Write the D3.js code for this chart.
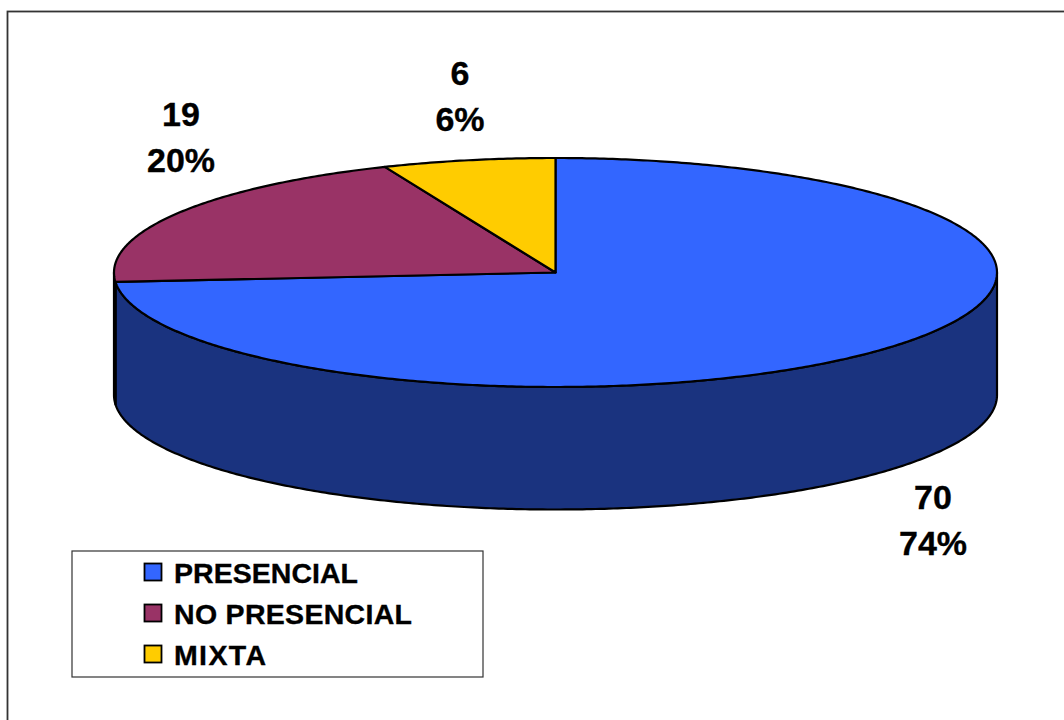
<!DOCTYPE html>
<html>
<head>
<meta charset="utf-8">
<script src="https://d3js.org/d3.v7.min.js"></script>
<style>
html,body{margin:0;padding:0;background:#fff;overflow:hidden}
svg{display:block}
text{font-family:"Liberation Sans",Arial,sans-serif;font-weight:bold;fill:#000;stroke:#000;stroke-width:.35}
</style>
</head>
<body>
<svg id="chart" width="1064" height="720"></svg>
<script>
const categories = ["PRESENCIAL", "NO PRESENCIAL", "MIXTA"];
const values = [70, 19, 6];
const percentLabels = ["74%", "20%", "6%"];
const topColors = ["#3366FF", "#993366", "#FFCC00"];
const sideColors = ["#1A337F", "#4D1A33", "#806600"];

const W = 1064, H = 720;
const cx = 555.5, cy = 272.5, rx = 441.5, ry = 114.5, depth = 122.5;
const labelAnchors = [[933, 509], [181, 126], [460, 85]];
const legendTextWidths = [184, 238, 92];

const svg = d3.select("#chart");

svg.append("rect").attr("x", 7.5).attr("y", 11.5)
  .attr("width", W).attr("height", H)
  .attr("fill", "#fff").attr("stroke", "#333").attr("stroke-width", 1.8);

const pie = d3.pie().sort(null).value(d => d);
const arcs = pie(values);

const px = d3.scaleLinear().domain([-1, 1]).range([cx - rx, cx + rx]);
const py = d3.scaleLinear().domain([-1, 1]).range([cy - ry, cy + ry]);
const pt = (a, dz = 0) => [px(Math.sin(a)), py(-Math.cos(a)) + dz];
const sample = (a0, a1) => {
  const n = Math.max(2, Math.ceil(Math.abs(a1 - a0) / 0.01));
  return d3.range(n + 1).map(i => a0 + (a1 - a0) * i / n);
};
const line = d3.line();

// side walls: only the front half of the ellipse is visible
arcs.forEach((d, i) => {
  const a0 = Math.max(d.startAngle, Math.PI / 2);
  const a1 = Math.min(d.endAngle, 3 * Math.PI / 2);
  if (a1 <= a0) return;
  const top = sample(a0, a1).map(a => pt(a));
  const bottom = sample(a1, a0).map(a => pt(a, depth));
  svg.append("path")
    .attr("d", line(top.concat(bottom)) + "Z")
    .attr("fill", sideColors[i])
    .attr("stroke", "#000").attr("stroke-width", 2.2).attr("stroke-linejoin", "round");
});

// outer right wall edge, from the right-most point down
svg.append("path")
  .attr("d", line([pt(Math.PI / 2), pt(Math.PI / 2, depth)]))
  .attr("stroke", "#000").attr("stroke-width", 2).attr("fill", "none");

// top face
arcs.forEach((d, i) => {
  const rim = sample(d.startAngle, d.endAngle).map(a => pt(a));
  svg.append("path")
    .attr("d", line([[cx, cy]].concat(rim)) + "Z")
    .attr("fill", topColors[i])
    .attr("stroke", "#000").attr("stroke-width", 2.2).attr("stroke-linejoin", "round");
});

// data labels
arcs.forEach((d, i) => {
  const [x, y] = labelAnchors[i];
  const t = svg.append("text").attr("text-anchor", "middle").attr("font-size", 34);
  t.append("tspan").attr("x", x).attr("y", y).text(values[i]);
  t.append("tspan").attr("x", x).attr("y", y + 46).text(percentLabels[i]);
});

// legend
const legend = svg.append("g");
legend.append("rect").attr("x", 72).attr("y", 551)
  .attr("width", 411).attr("height", 126)
  .attr("fill", "#fff").attr("stroke", "#333").attr("stroke-width", 1.2);
const rowY = d3.scalePoint().domain(categories).range([572, 654]);
categories.forEach((c, i) => {
  legend.append("rect").attr("x", 144.5).attr("y", rowY(c) - 8.5)
    .attr("width", 17).attr("height", 17)
    .attr("fill", topColors[i]).attr("stroke", "#000").attr("stroke-width", 1.8);
  legend.append("text").attr("x", 174).attr("y", rowY(c) + 10.5)
    .attr("font-size", 28.5)
    .attr("textLength", legendTextWidths[i]).attr("lengthAdjust", "spacing")
    .text(c);
});
</script>
</body>
</html>
